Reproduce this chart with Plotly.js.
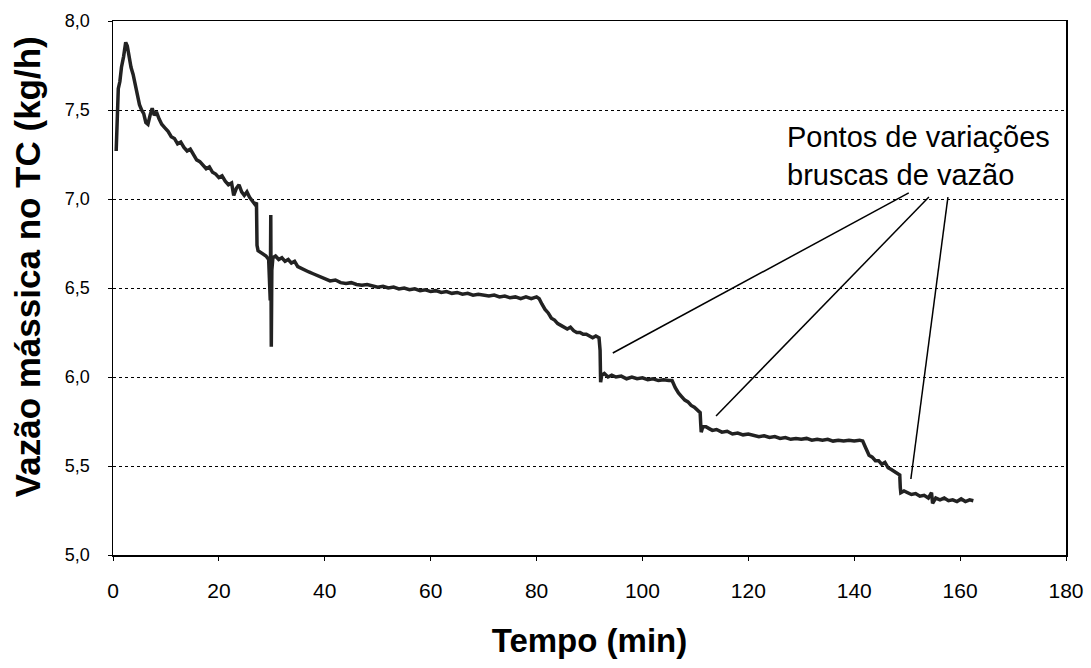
<!DOCTYPE html>
<html>
<head>
<meta charset="utf-8">
<script src="https://cdn.plot.ly/plotly-3.0.1.min.js"></script>
<style>html,body{margin:0;padding:0;background:#fff;}#chart{width:1091px;height:668px;}</style>
</head>
<body>
<div id="chart"></div>
<script>
// Time (min)
const tempo = [
 0.6,0.8,1.0,1.3,1.6,2.0,2.4,2.7,3.0,3.4,3.8,4.2,4.6,5.0,5.4,5.8,6.2,6.6,7.0,7.4,7.8,8.2,8.7,9.2,9.8,10.4,11.0,11.6,12.2,12.8,13.4,14.0,14.6,15.2,15.8,16.4,17.0,17.6,18.2,18.8,19.4,20.0,20.6,21.2,21.8,22.4,22.8,23.3,23.8,24.3,24.8,25.3,25.8,26.3,26.8,27.1,
 27.2,27.4,27.9,28.4,28.9,29.4,29.7,29.8,29.9,30.0,30.2,30.7,31.3,31.9,32.5,33.1,33.7,34.3,34.9,35.5,36.2,37.0,37.8,38.6,39.4,40.2,41.0,
 42,43,44,45,46,47,48,49,50,51,52,53,54,55,56,57,58,59,60,61,62,63,64,65,66,67,68,69,70,71,72,73,74,75,76,77,78,79,80,
 80.5,81,81.6,82.2,82.8,83.4,84,84.6,85.2,85.8,86.4,87,87.6,88.2,88.8,89.4,90,90.6,91.2,91.8,92.0,92.1,
 92.3,92.8,93.5,94.2,95,96,97,98,99,100,101,102,103,104,105,105.6,
 106.2,106.8,107.4,108,108.6,109.2,109.8,110.4,110.9,111.0,111.1,
 111.4,112,112.6,113.2,114,115,116,117,118,119,120,121,122,123,124,125,126,127,128,129,130,131,132,133,134,135,136,137,138,139,140,141,141.6,
 142.2,142.8,143.4,144,144.6,145.2,145.8,146.4,147,147.6,148.2,148.6,148.7,148.8,
 149.4,150,150.8,151.6,152.4,153.2,154,154.6,154.8,155.4,156.2,157,157.8,158.6,159.4,160.2,161,161.8,162.5
];
// Mass flow rate (kg/h)
const vazao = [
 7.27,7.45,7.62,7.66,7.74,7.80,7.88,7.86,7.80,7.74,7.70,7.64,7.57,7.53,7.50,7.48,7.43,7.42,7.47,7.51,7.47,7.49,7.45,7.42,7.40,7.38,7.35,7.34,7.31,7.32,7.29,7.27,7.28,7.25,7.22,7.21,7.19,7.17,7.18,7.15,7.14,7.12,7.13,7.10,7.08,7.09,7.02,7.06,7.08,7.04,7.02,7.04,7.01,6.99,6.97,6.98,
 6.74,6.71,6.70,6.69,6.68,6.66,6.43,6.91,6.17,6.60,6.67,6.68,6.66,6.67,6.65,6.66,6.64,6.65,6.62,6.61,6.60,6.59,6.58,6.57,6.56,6.55,6.54,
 6.545,6.53,6.525,6.53,6.52,6.515,6.52,6.51,6.505,6.51,6.50,6.505,6.495,6.50,6.49,6.495,6.485,6.49,6.48,6.485,6.475,6.48,6.47,6.475,6.465,6.47,6.46,6.465,6.46,6.455,6.46,6.45,6.455,6.445,6.45,6.44,6.45,6.44,6.45,
 6.44,6.41,6.38,6.36,6.33,6.32,6.30,6.29,6.28,6.27,6.28,6.26,6.25,6.25,6.24,6.24,6.23,6.22,6.23,6.22,6.15,5.97,
 6.01,6.02,6.00,6.01,6.00,6.005,5.99,6.00,5.99,5.995,5.985,5.99,5.98,5.985,5.98,5.98,
 5.94,5.91,5.89,5.87,5.86,5.84,5.83,5.81,5.80,5.74,5.69,
 5.72,5.72,5.71,5.70,5.705,5.69,5.695,5.68,5.685,5.675,5.68,5.67,5.665,5.67,5.66,5.665,5.655,5.66,5.65,5.655,5.65,5.655,5.645,5.65,5.645,5.65,5.64,5.645,5.64,5.645,5.64,5.645,5.64,
 5.60,5.56,5.55,5.53,5.53,5.51,5.52,5.49,5.48,5.47,5.46,5.45,5.38,5.35,
 5.36,5.35,5.34,5.345,5.33,5.335,5.32,5.35,5.29,5.32,5.31,5.32,5.305,5.31,5.30,5.315,5.30,5.31,5.305
];
// Callout: label anchor and pointer lines (text end -> curve point)
const calloutText = "Pontos de variações<br>bruscas de vazão";
const calloutPos = [127.0, 7.45];
const pointerFrom = [[150.3, 7.034], [154.1, 7.011], [157.7, 7.011]];
const pointerTo   = [[94.4, 6.135], [113.9, 5.781], [150.7, 5.427]];

const xTicks = [0,20,40,60,80,100,120,140,160,180];
const yTicks = [5.0,5.5,6.0,6.5,7.0,7.5,8.0];

const FONT = "Liberation Sans, Arial, sans-serif";

const trace = {
  x: tempo, y: vazao, type: 'scatter', mode: 'lines',
  line: {color: '#222', width: 3.5}, hoverinfo: 'skip'
};

const shapes = pointerFrom.map((p, i) => ({
  type: 'line', xref: 'x', yref: 'y',
  x0: p[0], y0: p[1], x1: pointerTo[i][0], y1: pointerTo[i][1],
  line: {color: '#000', width: 1.5}
}));

const layout = {
  width: 1091, height: 668,
  margin: {l: 113, r: 25, t: 21, b: 113},
  paper_bgcolor: '#fff', plot_bgcolor: '#fff',
  separators: ',.',
  showlegend: false,
  font: {family: FONT, color: '#000'},
  xaxis: {
    range: [0, 180], tickvals: xTicks, ticktext: xTicks.map(String),
    showgrid: false, zeroline: false,
    showline: true, mirror: true, linecolor: '#000', linewidth: 1.5,
    ticks: 'outside', ticklen: 4, tickcolor: '#000',
    ticklabelstandoff: 12,
    tickfont: {size: 21, family: FONT, color: '#000'},
    title: {text: '<b>Tempo (min)</b>', font: {size: 33, family: FONT, color: '#000'}, standoff: 28}
  },
  yaxis: {
    range: [5, 8], tickvals: yTicks, ticktext: yTicks.map(v => v.toFixed(1).replace('.', ',')),
    showgrid: true, gridcolor: '#000', griddash: 'dot', gridwidth: 1,
    zeroline: false,
    showline: true, mirror: true, linecolor: '#000', linewidth: 1.5,
    ticks: 'outside', ticklen: 4, tickcolor: '#000',
    ticklabelstandoff: 14,
    tickfont: {size: 18, family: FONT, color: '#000'}
  },
  shapes: shapes,
  annotations: [{
    x: calloutPos[0], y: calloutPos[1], xref: 'x', yref: 'y',
    xanchor: 'left', yanchor: 'top', align: 'left',
    text: calloutText, showarrow: false,
    font: {size: 29, family: FONT, color: '#000'}
  }, {
    x: -0.0902, y: 0.539, xref: 'paper', yref: 'paper',
    xanchor: 'center', yanchor: 'middle', textangle: -90,
    text: '<b>Vazão mássica no TC (kg/h)</b>', showarrow: false,
    font: {size: 35, family: FONT, color: '#000'}
  }]
};

Plotly.newPlot('chart', [trace], layout, {displayModeBar: false, staticPlot: true});
</script>
</body>
</html>
